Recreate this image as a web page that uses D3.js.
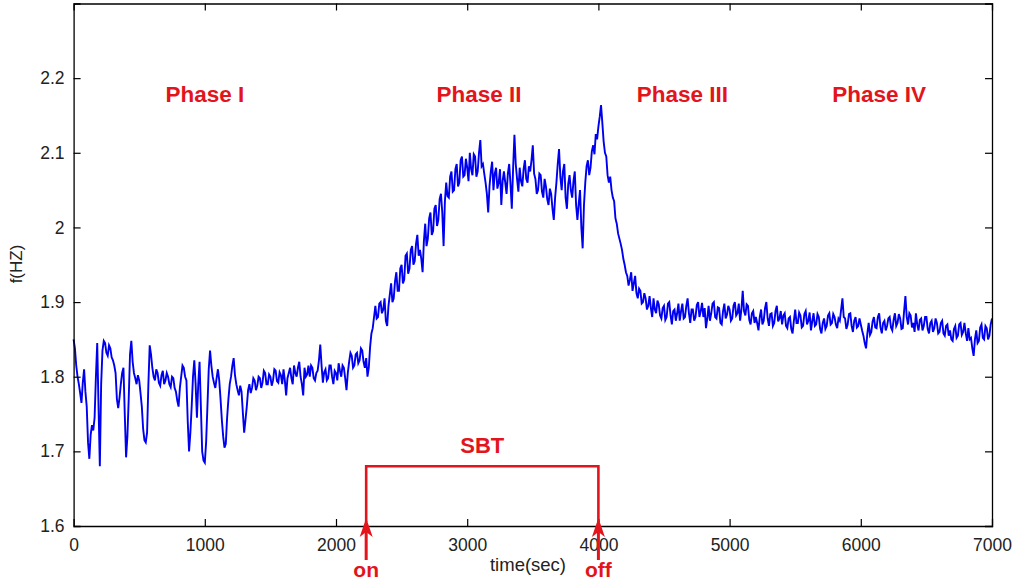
<!DOCTYPE html>
<html>
<head>
<meta charset="utf-8">
<script src="https://cdn.jsdelivr.net/npm/d3@7/dist/d3.min.js"></script>
<style>
  html, body { margin: 0; padding: 0; background: #fff; }
  svg { display: block; }
</style>
</head>
<body>
<svg id="chart" width="1018" height="583"></svg>
<script>
// ---- data ----
const sampleStart = 0;      // seconds
const sampleStep = 10;      // seconds between samples
const freq = [
  1.850,1.838,1.815,1.800,1.790,1.778,1.765,1.792,1.810,1.780,1.760,1.712,1.690,1.722,1.735,1.728,1.745,1.800,1.845,1.760,
  1.680,1.790,1.835,1.848,1.845,1.832,1.828,1.842,1.838,1.826,1.822,1.815,1.805,1.770,1.758,1.772,1.790,1.805,1.812,1.750,
  1.692,1.720,1.770,1.830,1.848,1.820,1.805,1.798,1.790,1.802,1.795,1.778,1.760,1.730,1.715,1.712,1.725,1.790,1.842,1.830,
  1.812,1.800,1.795,1.810,1.805,1.792,1.788,1.802,1.808,1.790,1.795,1.805,1.800,1.790,1.786,1.800,1.798,1.785,1.780,1.768,
  1.760,1.785,1.800,1.815,1.812,1.800,1.795,1.740,1.700,1.725,1.760,1.800,1.822,1.790,1.745,1.790,1.820,1.760,1.700,1.688,
  1.685,1.712,1.760,1.810,1.835,1.815,1.800,1.792,1.785,1.798,1.810,1.795,1.770,1.742,1.720,1.705,1.710,1.745,1.770,1.790,
  1.800,1.815,1.825,1.802,1.790,1.782,1.775,1.788,1.780,1.752,1.725,1.742,1.760,1.782,1.790,1.778,1.785,1.798,1.795,1.782,
  1.788,1.800,1.798,1.785,1.792,1.808,1.805,1.790,1.790,1.803,1.800,1.788,1.795,1.810,1.808,1.794,1.792,1.806,1.802,1.790,
  1.810,1.795,1.775,1.798,1.805,1.812,1.798,1.790,1.815,1.805,1.800,1.812,1.820,1.800,1.790,1.775,1.812,1.800,1.803,1.815,
  1.800,1.815,1.812,1.798,1.795,1.805,1.808,1.822,1.843,1.815,1.792,1.806,1.810,1.795,1.798,1.815,1.815,1.800,1.790,1.808,
  1.805,1.795,1.818,1.808,1.800,1.815,1.812,1.798,1.782,1.805,1.820,1.832,1.828,1.812,1.815,1.830,1.832,1.818,1.822,1.838,
  1.835,1.820,1.812,1.825,1.800,1.812,1.840,1.858,1.865,1.880,1.895,1.878,1.880,1.898,1.900,1.885,1.890,1.905,1.875,1.868,
  1.895,1.910,1.925,1.900,1.905,1.928,1.940,1.915,1.915,1.945,1.950,1.925,1.930,1.962,1.965,1.938,1.945,1.970,1.975,1.950,
  1.955,1.978,1.990,1.962,1.970,1.958,1.940,1.982,2.005,1.975,1.985,2.012,2.020,1.990,1.995,2.025,2.030,2.002,2.010,2.038,
  2.045,2.020,1.975,2.035,2.060,2.042,2.040,2.068,2.075,2.048,2.050,2.078,2.085,2.055,2.060,2.090,2.095,2.068,2.070,2.092,
  2.080,2.062,2.100,2.078,2.070,2.098,2.095,2.068,2.075,2.100,2.117,2.082,2.085,2.072,2.060,2.045,2.020,2.055,2.075,2.088,
  2.050,2.072,2.080,2.052,2.060,2.078,2.030,2.062,2.075,2.060,2.045,2.072,2.085,2.058,2.025,2.080,2.124,2.085,2.065,2.048,
  2.080,2.062,2.055,2.078,2.090,2.065,2.060,2.082,2.075,2.090,2.110,2.072,2.065,2.045,2.050,2.072,2.070,2.048,2.040,2.065,
  2.055,2.038,2.030,2.052,2.045,2.025,2.010,2.040,2.060,2.085,2.105,2.068,2.050,2.075,2.085,2.040,2.025,2.058,2.070,2.050,
  2.040,2.062,2.075,2.030,2.010,2.032,2.050,2.000,1.972,2.030,2.060,2.082,2.090,2.070,2.080,2.102,2.110,2.098,2.125,2.118,
  2.135,2.148,2.164,2.140,2.115,2.100,2.095,2.070,2.060,2.068,2.050,2.040,2.035,2.012,2.005,1.992,1.985,1.978,1.970,1.958,
  1.950,1.940,1.935,1.922,1.930,1.940,1.915,1.925,1.935,1.912,1.905,1.918,1.915,1.898,1.900,1.912,1.905,1.890,1.895,1.908,
  1.892,1.880,1.905,1.890,1.885,1.902,1.897,1.882,1.878,1.892,1.895,1.876,1.880,1.898,1.900,1.882,1.870,1.888,1.890,1.875,
  1.885,1.898,1.875,1.888,1.898,1.878,1.880,1.895,1.905,1.885,1.872,1.890,1.890,1.875,1.880,1.896,1.900,1.880,1.888,1.899,
  1.880,1.892,1.865,1.878,1.895,1.875,1.885,1.898,1.900,1.880,1.878,1.893,1.892,1.872,1.870,1.888,1.898,1.878,1.883,1.895,
  1.890,1.875,1.878,1.895,1.900,1.882,1.885,1.898,1.875,1.890,1.915,1.888,1.882,1.897,1.895,1.876,1.870,1.885,1.888,1.872,
  1.880,1.872,1.862,1.880,1.890,1.870,1.875,1.892,1.900,1.878,1.868,1.884,1.885,1.868,1.872,1.888,1.895,1.874,1.878,1.888,
  1.870,1.882,1.885,1.868,1.865,1.878,1.880,1.864,1.858,1.875,1.890,1.872,1.872,1.886,1.882,1.866,1.868,1.884,1.888,1.870,
  1.875,1.886,1.862,1.874,1.885,1.868,1.870,1.884,1.880,1.864,1.858,1.872,1.878,1.864,1.868,1.882,1.885,1.870,1.872,1.884,
  1.880,1.870,1.865,1.878,1.875,1.890,1.905,1.880,1.878,1.864,1.870,1.884,1.885,1.868,1.860,1.875,1.880,1.866,1.868,1.878,
  1.870,1.862,1.855,1.845,1.838,1.858,1.872,1.856,1.860,1.874,1.880,1.866,1.865,1.880,1.885,1.866,1.858,1.872,1.875,1.862,
  1.868,1.878,1.880,1.866,1.862,1.876,1.885,1.868,1.872,1.884,1.878,1.864,1.865,1.888,1.908,1.880,1.870,1.885,1.882,1.866,
  1.872,1.860,1.885,1.870,1.862,1.876,1.878,1.862,1.868,1.880,1.880,1.864,1.858,1.872,1.875,1.860,1.865,1.878,1.872,1.858,
  1.860,1.872,1.875,1.858,1.855,1.868,1.870,1.855,1.862,1.850,1.848,1.864,1.868,1.852,1.855,1.870,1.872,1.856,1.860,1.872,
  1.858,1.848,1.865,1.850,1.852,1.838,1.828,1.850,1.862,1.845,1.848,1.866,1.870,1.852,1.850,1.868,1.865,1.850,1.855,1.870,1.878
];
const xTicks = [0, 1000, 2000, 3000, 4000, 5000, 6000, 7000];
const yTicks = [1.6, 1.7, 1.8, 1.9, 2.0, 2.1, 2.2];
const xDomain = [0, 7000];
const yDomain = [1.6, 2.3];
const phaseLabels = ["Phase I", "Phase II", "Phase III", "Phase IV"];
const phaseLabelX = [1000, 3090, 4640, 6140];   // seconds (label centres)
const phaseLabelY = 2.168;                      // Hz (baseline)
const sbtOn = 2230, sbtOff = 4000;              // seconds
const sbtLevel = 1.68;                          // Hz, bracket height

// ---- layout ----
const svg = d3.select("#chart");
const L = 73.6, R = 992, T = 3.5, B = 526;
const x = d3.scaleLinear().domain(xDomain).range([L, R]);
const y = d3.scaleLinear().domain(yDomain).range([B, T]);
const red = "#e3141b";
const font = "'Liberation Sans', Arial, sans-serif";

const series = freq.map((v, i) => ({ t: sampleStart + i * sampleStep, v }));

// data line
svg.append("path")
  .datum(series)
  .attr("fill", "none")
  .attr("stroke", "#0000f0")
  .attr("stroke-width", 1.9)
  .attr("stroke-linejoin", "miter")
  .attr("d", d3.line().x(d => x(d.t)).y(d => y(d.v)));

// axes (ticks inward on all four sides)
const tickLen = 7;
const gx = svg.append("g").attr("transform", `translate(0,${B})`)
  .call(d3.axisBottom(x).tickValues(xTicks).tickSize(-tickLen).tickPadding(tickLen + 6).tickFormat(d3.format("d")));
const gxt = svg.append("g").attr("transform", `translate(0,${T})`)
  .call(d3.axisTop(x).tickValues(xTicks).tickSize(-tickLen).tickFormat(""));
const gy = svg.append("g").attr("transform", `translate(${L},0)`)
  .call(d3.axisLeft(y).tickValues(yTicks).tickSize(-tickLen).tickPadding(tickLen + 2).tickFormat(d => d3.format("~g")(d)));
const gyr = svg.append("g").attr("transform", `translate(${R},0)`)
  .call(d3.axisRight(y).tickValues(yTicks).tickSize(-tickLen).tickFormat(""));

[gx, gxt, gy, gyr].forEach(g => {
  g.select(".domain").attr("stroke", "#000").attr("stroke-width", 1.3);
  g.selectAll(".tick line").attr("stroke", "#000").attr("stroke-width", 1.2);
  g.selectAll(".tick text").attr("fill", "#222").style("font-family", font).style("font-size", "17.5px");
});
gx.selectAll(".tick line").filter(d => d === 0 || d === 7000).remove();
gxt.selectAll(".tick line").filter(d => d === 0 || d === 7000).remove();
gy.selectAll(".tick line").filter(d => d === 1.6).remove();
gyr.selectAll(".tick line").filter(d => d === 1.6).remove();

// axis titles
svg.append("text").attr("x", 528).attr("y", 571).attr("text-anchor", "middle")
  .attr("fill", "#222").style("font-family", font).style("font-size", "18.5px").text("time(sec)");
svg.append("text").attr("transform", "translate(22,264) rotate(-90)").attr("text-anchor", "middle")
  .attr("fill", "#222").style("font-family", font).style("font-size", "17px").text("f(HZ)");

// phase labels
svg.selectAll(".phase").data(phaseLabels).enter().append("text")
  .attr("class", "phase")
  .attr("x", (d, i) => x(phaseLabelX[i]))
  .attr("y", y(phaseLabelY))
  .attr("text-anchor", "middle")
  .attr("fill", red)
  .style("font-family", font).style("font-size", "22.5px").style("font-weight", "bold")
  .text(d => d);

// SBT bracket
const tipY = y(1.6107);
svg.append("path")
  .attr("fill", "none").attr("stroke", red).attr("stroke-width", 2.6)
  .attr("d", `M${x(sbtOn)},${tipY + 4}V${y(sbtLevel)}H${x(sbtOff)}V${tipY + 4}`);
svg.append("text").attr("x", (x(sbtOn) + x(sbtOff)) / 2).attr("y", 453).attr("text-anchor", "middle")
  .attr("fill", red).style("font-family", font).style("font-size", "22px").style("font-weight", "bold").text("SBT");

// arrows
[[sbtOn, "on"], [sbtOff, "off"]].forEach(([t, lbl]) => {
  const cx = x(t);
  svg.append("line").attr("x1", cx).attr("x2", cx).attr("y1", tipY + 12).attr("y2", 560)
    .attr("stroke", red).attr("stroke-width", 3);
  svg.append("path").attr("fill", red)
    .attr("d", `M${cx},${tipY}L${cx - 6.5},${tipY + 19}L${cx},${tipY + 14}L${cx + 6.5},${tipY + 19}Z`);
  svg.append("text").attr("x", cx).attr("y", 577).attr("text-anchor", "middle")
    .attr("fill", red).style("font-family", font).style("font-size", "21px").style("font-weight", "bold").text(lbl);
});
</script>
</body>
</html>
